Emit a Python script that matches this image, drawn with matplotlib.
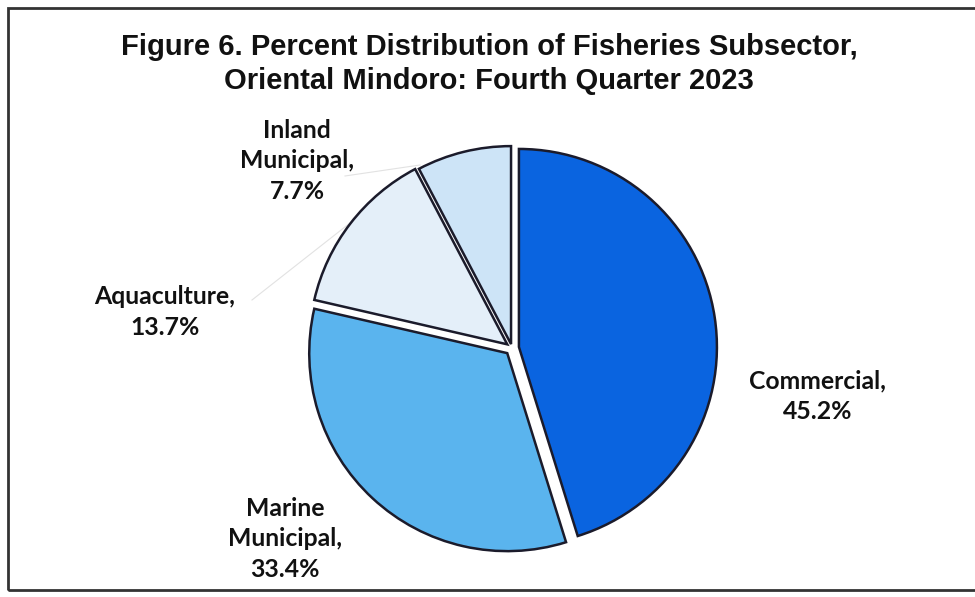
import matplotlib
matplotlib.use("Agg")
from matplotlib import pyplot as plt
from matplotlib.patches import Rectangle

# data
subsectors = ["Commercial", "Marine\nMunicipal", "Aquaculture", "Inland\nMunicipal"]
shares = [45.2, 33.4, 13.7, 7.7]

colors = ["#0a64e0", "#5ab4ee", "#e4eff9", "#cde4f7"]
explode = [7, 7, 6, 4]  # pixels, pie offsets are in data units here

W, H = 975, 597
# label block centres, in pixels from top-left
label_pos = [(818, 396), (285, 539), (165, 312), (297, 161)]


def Y(y):
    return H - y


fig = plt.figure(figsize=(W / 100, H / 100), dpi=100)
ax = fig.add_axes([0, 0, 1, 1])

ax.pie(
    shares,
    colors=colors,
    explode=explode,
    startangle=90,
    counterclock=False,
    radius=198,
    center=(512, Y(348)),
    wedgeprops=dict(edgecolor="#1b1b2b", linewidth=1.8),
)
ax.set_xlim(0, W)
ax.set_ylim(0, H)
ax.axis("off")

# faint leader lines
ax.plot([252, 350], [Y(300), Y(223)], color="#e2e2e2", lw=0.8, zorder=0)
ax.plot([345, 420], [Y(176), Y(165)], color="#e2e2e2", lw=0.8, zorder=0)

for name, v, (x, y) in zip(subsectors, shares, label_pos):
    ax.text(x, Y(y), f"{name},\n{v:.1f}%", ha="center", va="center",
            fontsize=17.8, fontweight="bold", family="Lato",
            linespacing=1.42, color="#111111")

ax.text(489, Y(64), "Figure 6. Percent Distribution of Fisheries Subsector,\n"
        "Oriental Mindoro: Fourth Quarter 2023",
        ha="center", va="center", fontsize=21, fontweight="bold",
        family="Liberation Sans", linespacing=1.3, color="#111111")

# chart frame
ax.add_patch(Rectangle((8, Y(590)), 1000, 582, fill=False,
                       edgecolor="#333333", lw=2, clip_on=False))

fig.savefig("out.png", dpi=100)
